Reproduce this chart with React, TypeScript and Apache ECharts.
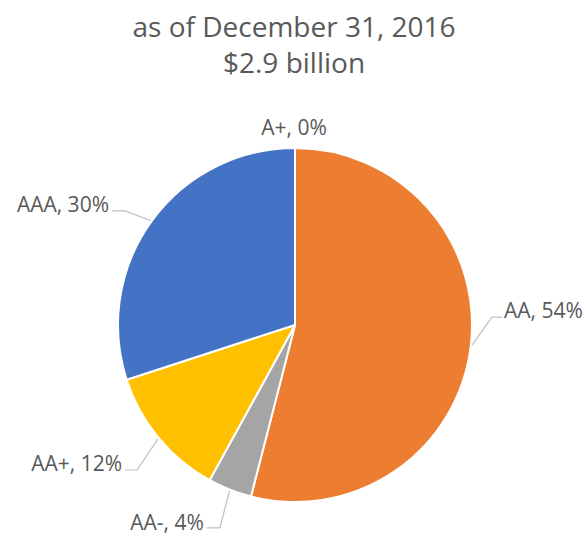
import React, { useEffect, useRef } from "react";
import * as echarts from "echarts";

const categories = ["A+", "AA", "AA-", "AA+", "AAA"];
const values = [0, 54, 4, 12, 30];
const sliceColors = ["#5B9BD5", "#ED7D31", "#A5A5A5", "#FFC000", "#4472C4"];
const titleLines = ["as of December 31, 2016", "$2.9 billion"];

// label placement offsets relative to each slice's outer-edge midpoint: [kneeDx, kneeDy, endDx, endDy, labelDx, labelDy]
const labelOffsets: number[][] = [
  [0, 0, 0, 0, -1, -21],
  [21.4, -30, 31.4, -30, 33.4, -37],
  [-10, 38.4, -23, 38.4, -26, 32.4],
  [-21.6, 32.2, -33.6, 32.2, -36.6, 25.2],
  [-26.8, -10, -39.8, -10, -42.8, -17],
];

const CX = 295;
const CY = 325;
const R = 177;

export default function App() {
  const ref = useRef<HTMLDivElement>(null);
  useEffect(() => {
    if (!ref.current) return;
    const chart = echarts.init(ref.current, null, { renderer: "svg" });
    const total = values.reduce((a, b) => a + b, 0);
    const edges: number[][] = [];
    let cum = 0;
    values.forEach((v) => {
      const mid = ((cum + v / 2) / total) * Math.PI * 2;
      edges.push([CX + R * Math.sin(mid), CY - R * Math.cos(mid)]);
      cum += v;
    });
    chart.setOption({
      animation: false,
      backgroundColor: "#ffffff",
      title: {
        text: titleLines.join("\n"),
        left: "center",
        top: 3,
        textStyle: {
          fontFamily: "Open Sans",
          fontSize: 28,
          fontWeight: "normal",
          color: "#595959",
          lineHeight: 36,
        },
      },
      series: [
        {
          type: "pie",
          center: [CX, CY],
          radius: R,
          startAngle: 90,
          clockwise: true,
          avoidLabelOverlap: false,
          minShowLabelAngle: 0,
          itemStyle: { borderColor: "#ffffff", borderWidth: 2 },
          label: {
            show: true,
            position: "outside",
            formatter: (p: any) => `${p.name}, ${Math.round(p.percent)}%`,
            fontFamily: "Open Sans",
            fontSize: 21,
            color: "#595959",
          },
          labelLine: {
            show: true,
            lineStyle: { color: "#BFBFBF", width: 1.2 },
          },
          labelLayout: (params: any) => {
            const i = params.dataIndex;
            const e = edges[i];
            const o = labelOffsets[i];
            const res: any = {
              x: e[0] + o[4],
              y: e[1] + o[5],
              verticalAlign: "middle",
              align: i === 0 ? "center" : o[4] > 0 ? "left" : "right",
            };
            if (i !== 0) {
              res.labelLinePoints = [
                [e[0], e[1]],
                [e[0] + o[0], e[1] + o[1]],
                [e[0] + o[2], e[1] + o[3]],
              ];
            }
            return res;
          },
          data: categories.map((c, i) => ({
            name: c,
            value: values[i],
            itemStyle: { color: sliceColors[i] },
            labelLine: { show: i !== 0 },
          })),
        },
      ],
    });
    return () => chart.dispose();
  }, []);
  return (
    <div
      ref={ref}
      style={{ position: "fixed", left: 0, top: 0, width: 588, height: 535 }}
    />
  );
}
